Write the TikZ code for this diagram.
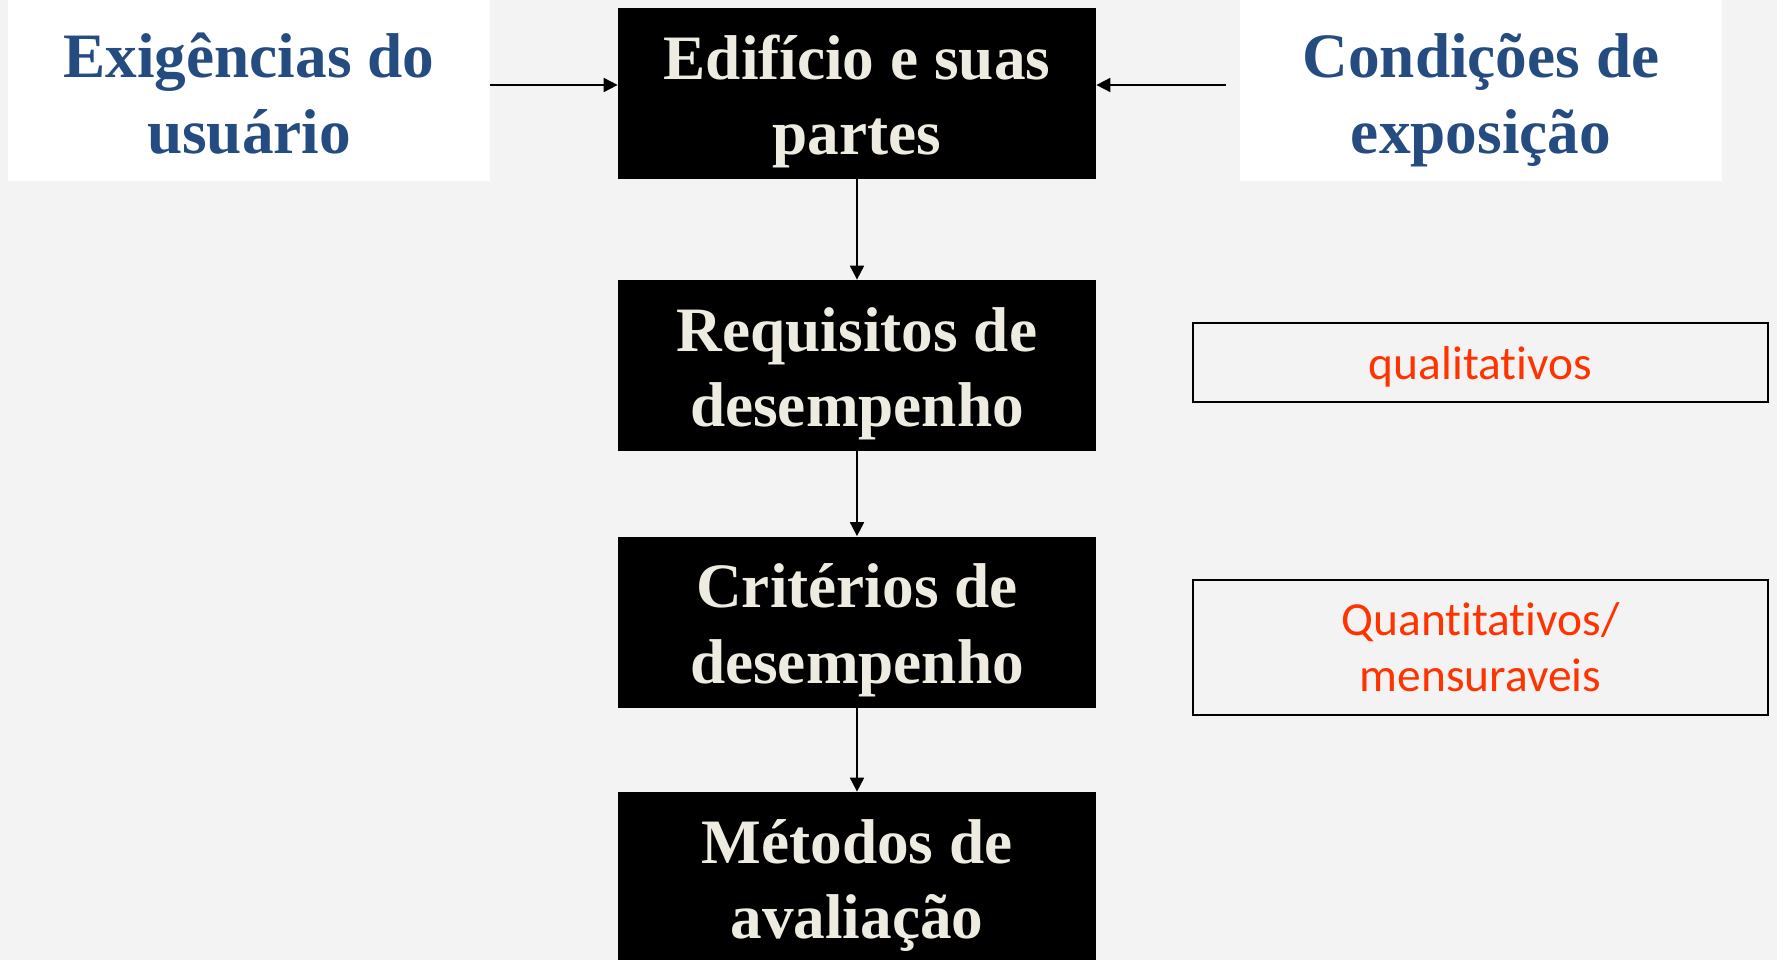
\documentclass[tikz,border=0pt]{standalone}
\usepackage{fontspec}
\setmainfont{Liberation Serif}
\newfontfamily\calibri[Ligatures=NoCommon]{Carlito}
\usetikzlibrary{arrows.meta}
\definecolor{fundo}{RGB}{243,243,243}
\definecolor{azul}{RGB}{37,76,128}
\definecolor{creme}{RGB}{238,236,225}
\definecolor{laranja}{RGB}{255,51,0}
\tikzset{
  etapa/.style={fill=black, text=creme, minimum width=9.56cm, minimum height=3.42cm,
    inner sep=0pt, align=center, font=\fontsize{36}{43}\selectfont\bfseries,
    text height=78.5pt, text depth=9pt},
  entrada/.style={fill=white, text=azul, minimum width=9.64cm, minimum height=3.62cm,
    inner sep=0pt, align=center, font=\fontsize{36}{43}\selectfont\bfseries,
    text height=80pt, text depth=9pt},
  nota/.style={draw=black, line width=1.1pt, text=laranja, minimum width=11.5cm,
    inner sep=0pt, align=center, font=\calibri\fontsize{27}{32}\selectfont},
  seta/.style={-{Triangle[length=0.28cm,width=0.28cm]}, line width=1pt}
}

\begin{document}
\begin{tikzpicture}
    % fundo
    \clip (0,0) rectangle (35.54,-19.2);
    \fill[fundo] (0,0) rectangle (35.54,-19.2);
    % entradas
    \node[entrada] (usuario) at (4.98,-1.82) {Exigências do\\usuário};
    \node[entrada] (exposicao) at (29.62,-1.82) {Condições de\\exposição};
    % etapas
    \node[etapa] (edificio) at (17.14,-1.87) {Edifício e suas\\partes};
    \node[etapa] (requisitos) at (17.14,-7.31) {Requisitos de\\desempenho};
    \node[etapa] (criterios) at (17.14,-12.44) {Critérios de\\desempenho};
    \node[etapa] (metodos) at (17.14,-17.55) {Métodos de\\avaliação};
    % notas
    \node[nota, minimum height=1.58cm, text height=24.3pt, text depth=5.4pt] (quali) at (29.61,-7.25) {qualitativos};
    \node[nota, minimum height=2.7cm] (quanti) at (29.61,-12.95) {Quantitativos/\\mensuraveis};
    % setas
    \draw[seta] ([yshift=0.12cm]usuario.east) -- ([yshift=0.12cm]usuario.east -| edificio.west);
    \draw[seta] ([xshift=-0.28cm,yshift=0.12cm]exposicao.west) -- ([yshift=0.12cm]usuario.east -| edificio.east);
    \draw[seta] (edificio) -- (requisitos);
    \draw[seta] (requisitos) -- (criterios);
    \draw[seta] (criterios) -- (metodos);
\end{tikzpicture}
\end{document}
